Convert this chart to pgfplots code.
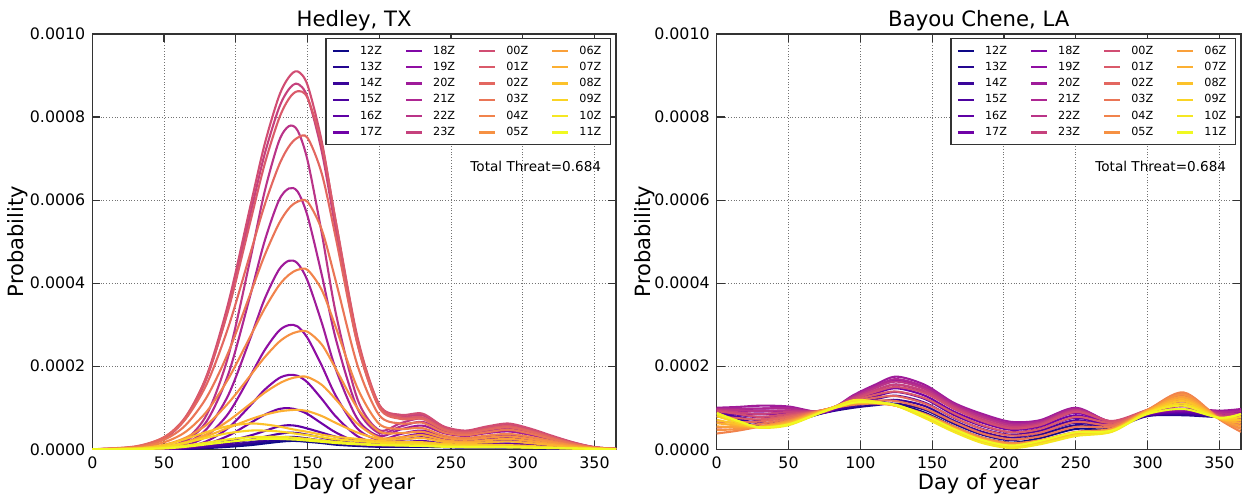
\documentclass[border=0pt]{standalone}
\usepackage{fontspec}
\setmainfont{DejaVu Sans}
\usepackage{pgfplots}
\usepackage{pgfplotstable}
\pgfplotsset{compat=1.18}

\definecolor{c12}{HTML}{0D0887}
\definecolor{c13}{HTML}{240690}
\definecolor{c14}{HTML}{3A059A}
\definecolor{c15}{HTML}{4D03A0}
\definecolor{c16}{HTML}{5F01A5}
\definecolor{c17}{HTML}{7002A7}
\definecolor{c18}{HTML}{8108A6}
\definecolor{c19}{HTML}{900EA3}
\definecolor{c20}{HTML}{9F1B9A}
\definecolor{c21}{HTML}{AE2792}
\definecolor{c22}{HTML}{BA3488}
\definecolor{c23}{HTML}{C6417D}
\definecolor{c00}{HTML}{D14D73}
\definecolor{c01}{HTML}{DA5A6A}
\definecolor{c02}{HTML}{E36760}
\definecolor{c03}{HTML}{EA7556}
\definecolor{c04}{HTML}{F1834C}
\definecolor{c05}{HTML}{F69143}
\definecolor{c06}{HTML}{FAA03A}
\definecolor{c07}{HTML}{FCB032}
\definecolor{c08}{HTML}{FCC22A}
\definecolor{c09}{HTML}{FAD424}
\definecolor{c10}{HTML}{F5E723}
\definecolor{c11}{HTML}{F0F921}

% values in units of 1e-4
\pgfplotstableread{
day h12 h13 h14 h15 h16 h17 h18 h19 h20 h21 h22 h23 h00 h01 h02 h03 h04 h05 h06 h07 h08 h09 h10 h11
0   0 0 0 0 0 0 0 0 0 0 0 0 0 0 0 0 0 0 0 0 0 0 0 0
30  0 0 0 0 0 0 0 0 0 0 0 .05 .05 .06 .07 .05 .04 .02 .02 .01 .02 .01 .01 .01
50  0 0 0 .01 .01 .01 .01 .02 .03 .04 .05 .26 .26 .29 .29 .23 .17 .11 .07 .05 .10 .06 .03 .02
65  .01 .01 .02 .03 .04 .04 .05 .09 .14 .19 .23 .74 .76 .78 .73 .58 .42 .28 .17 .15 .25 .16 .09 .06
80  .03 .04 .05 .07 .10 .13 .20 .33 .50 .69 .85 1.74 1.80 1.77 1.59 1.27 .92 .60 .37 .32 .42 .28 .16 .12
95  .06 .08 .10 .14 .20 .33 .52 .87 1.32 1.83 2.27 3.43 3.55 3.38 2.96 2.35 1.71 1.12 .69 .52 .56 .39 .24 .18
110 .10 .13 .17 .23 .33 .63 1.05 1.76 2.66 3.69 4.56 5.64 5.83 5.46 4.70 3.73 2.71 1.77 1.09 .72 .62 .45 .29 .23
120 .14 .18 .22 .30 .44 .83 1.43 2.38 3.61 5.00 6.19 7.09 7.33 6.85 5.87 4.66 3.38 2.21 1.36 .83 .60 .45 .30 .25
130 .18 .22 .28 .37 .55 .97 1.71 2.85 4.32 5.99 7.41 8.21 8.49 7.95 6.83 5.43 3.94 2.58 1.58 .91 .55 .43 .30 .25
137 .20 .24 .30 .40 .58 .99 1.79 2.99 4.54 6.28 7.78 8.67 8.96 8.44 7.29 5.80 4.20 2.75 1.69 .94 .50 .40 .29 .24
143 .20 .23 .29 .39 .56 .95 1.77 2.96 4.48 6.21 7.68 8.80 9.10 8.62 7.50 5.96 4.32 2.83 1.74 .95 .46 .37 .27 .23
150 .18 .21 .26 .35 .50 .85 1.61 2.68 4.06 5.62 6.96 8.48 8.77 8.46 7.50 5.96 4.32 2.83 1.74 .92 .42 .34 .25 .21
160 .15 .17 .21 .28 .40 .62 1.21 2.01 3.04 4.19 5.19 7.16 7.40 7.32 6.63 5.28 3.83 2.52 1.55 .80 .35 .29 .21 .18
170 .11 .13 .16 .21 .30 .40 .78 1.27 1.90 2.62 3.23 5.23 5.41 5.44 5.04 4.01 2.91 1.92 1.19 .63 .30 .24 .18 .15
185 .08 .09 .11 .14 .20 .17 .31 .49 .72 .97 1.19 2.52 2.62 2.67 2.51 2.00 1.46 .98 .61 .40 .25 .20 .14 .12
200 .06 .07 .08 .11 .15 .10 .16 .23 .32 .39 .46 1.03 1.07 1.07 1.00 .82 .61 .43 .28 .25 .20 .16 .11 .10
215 .06 .07 .09 .12 .17 .22 .29 .37 .48 .55 .63 .79 .83 .77 .73 .62 .49 .39 .29 .24 .18 .14 .10 .09
230 .06 .08 .10 .14 .20 .29 .37 .45 .57 .66 .74 .82 .86 .77 .73 .64 .51 .42 .34 .27 .17 .13 .09 .08
245 .05 .06 .07 .10 .14 .19 .25 .30 .39 .44 .50 .52 .55 .50 .47 .41 .33 .28 .22 .18 .13 .10 .07 .06
260 .04 .05 .06 .08 .12 .16 .20 .25 .32 .36 .41 .43 .45 .41 .38 .34 .27 .23 .18 .15 .11 .08 .06 .05
275 .04 .05 .07 .09 .13 .19 .25 .30 .39 .44 .50 .52 .55 .50 .47 .41 .33 .28 .22 .17 .11 .08 .06 .05
290 .04 .05 .07 .10 .14 .22 .28 .34 .43 .50 .56 .59 .62 .56 .53 .47 .37 .31 .25 .19 .10 .07 .05 .05
305 .03 .04 .05 .08 .11 .18 .23 .28 .35 .40 .45 .48 .50 .45 .43 .38 .30 .25 .20 .15 .08 .05 .04 .04
320 .02 .02 .03 .05 .07 .12 .15 .18 .23 .26 .30 .31 .33 .30 .28 .25 .20 .17 .13 .10 .05 .04 .03 .03
335 .01 .01 .02 .03 .04 .06 .08 .09 .12 .14 .15 .16 .17 .15 .14 .13 .10 .09 .07 .05 .03 .02 .02 .02
350 0 0 0 .01 .01 .02 .02 .03 .04 .04 .05 .05 .05 .05 .04 .04 .03 .03 .02 .02 .01 .01 .01 .01
365 0 0 0 0 0 0 0 .01 .01 .01 .01 .01 .01 .01 .01 .01 .01 .01 0 0 0 0 0 0
}\lefttab

\pgfplotstableread{
day h12 h13 h14 h15 h16 h17 h18 h19 h20 h21 h22 h23 h00 h01 h02 h03 h04 h05 h06 h07 h08 h09 h10 h11
0   .83 .80 .83 .86 .89 .91 .94 .97 1.00 .98 .96 .94 .92 .79 .65 .52 .38 .46 .55 .63 .71 .80 .88 .85
15  .68 .68 .73 .78 .83 .87 .92 .97 1.02 .98 .94 .89 .85 .75 .65 .55 .45 .49 .53 .57 .60 .64 .68 .68
30  .55 .56 .63 .70 .77 .84 .91 .98 1.05 .98 .92 .85 .78 .72 .67 .61 .55 .55 .54 .54 .53 .53 .52 .53
50  .63 .65 .70 .76 .81 .87 .92 .98 1.03 .99 .94 .90 .85 .81 .78 .74 .70 .68 .66 .64 .62 .60 .58 .60
75  .89 .88 .88 .89 .89 .89 .89 .90 .90 .91 .93 .94 .95 .95 .95 .95 .95 .95 .94 .94 .93 .93 .92 .91
95  1.06 1.00 1.04 1.09 1.13 1.17 1.21 1.26 1.30 1.28 1.25 1.23 1.20 1.17 1.14 1.10 1.07 1.09 1.11 1.13 1.14 1.16 1.18 1.12
110 1.09 1.06 1.13 1.20 1.27 1.34 1.41 1.48 1.55 1.51 1.47 1.42 1.38 1.31 1.24 1.17 1.10 1.11 1.12 1.13 1.13 1.14 1.15 1.12
125 1.08 1.10 1.19 1.29 1.38 1.47 1.56 1.66 1.75 1.69 1.63 1.56 1.50 1.39 1.28 1.16 1.05 1.05 1.05 1.05 1.05 1.05 1.05 1.07
145 .88 .95 1.04 1.12 1.21 1.29 1.38 1.46 1.55 1.50 1.45 1.40 1.35 1.23 1.10 .98 .85 .83 .82 .80 .78 .77 .75 .82
165 .55 .62 .69 .76 .83 .91 .98 1.05 1.12 1.09 1.05 1.02 .98 .87 .77 .66 .55 .53 .51 .49 .46 .44 .42 .49
185 .28 .35 .42 .49 .56 .64 .71 .78 .85 .81 .77 .72 .68 .58 .48 .38 .28 .26 .24 .22 .19 .17 .15 .22
205 .16 .22 .28 .35 .41 .47 .53 .60 .66 .62 .58 .54 .50 .41 .33 .24 .15 .13 .11 .09 .07 .05 .03 .09
225 .27 .35 .40 .45 .50 .55 .60 .65 .70 .67 .64 .61 .58 .49 .40 .31 .22 .20 .19 .17 .15 .14 .12 .20
250 .49 .58 .64 .70 .76 .82 .88 .94 1.00 .98 .95 .93 .90 .78 .66 .54 .42 .40 .39 .37 .35 .34 .32 .41
275 .49 .52 .54 .56 .58 .60 .62 .64 .66 .66 .67 .67 .68 .64 .59 .55 .50 .49 .47 .46 .45 .43 .42 .45
300 .83 .80 .81 .82 .83 .85 .86 .87 .88 .90 .92 .93 .95 .95 .95 .95 .95 .94 .93 .92 .90 .89 .88 .85
325 .90 .82 .84 .87 .89 .91 .93 .96 .98 1.04 1.09 1.15 1.20 1.24 1.29 1.33 1.37 1.32 1.26 1.21 1.16 1.10 1.05 .97
350 .77 .78 .80 .82 .84 .87 .89 .91 .93 .90 .87 .83 .80 .78 .76 .74 .72 .73 .73 .74 .74 .75 .75 .76
365 .85 .85 .87 .88 .90 .92 .94 .95 .97 .92 .86 .81 .75 .67 .59 .50 .42 .49 .56 .64 .71 .78 .85 .85
}\righttab

\pgfplotsset{
  panel/.style={
    scale only axis, height=207.65pt,
    xmin=0, xmax=365, ymin=0, ymax=10,
    xtick={0,50,100,150,200,250,300,350},
    ytick={0,2,4,6,8,10},
    yticklabels={0.0000,0.0002,0.0004,0.0006,0.0008,0.0010},
    grid=major,
    major grid style={densely dotted, black!55, line width=0.5pt},
    axis line style={black!80, line width=0.7pt},
    tick style={black!80, line width=0.6pt},
    major tick length=4pt,
    tick align=inside,
    ticklabel style={font=\fontsize{7.9}{9}\selectfont},
    /pgf/number format/assume math mode=true,
    xlabel={Day of year}, ylabel={Probability},
    label style={font=\fontsize{10.5}{12}\selectfont},
    xlabel style={at={(axis description cs:0.5,-0.082)}, anchor=center},
    title style={font=\fontsize{10.6}{12}\selectfont, at={(axis description cs:0.5,1)}, anchor=base, yshift=-2.5pt},
    legend columns=4,
    legend cell align=left,
    legend style={at={(axis description cs:1,1)}, anchor=north east,
      xshift=-2.5pt, yshift=-2pt,
      font=\fontsize{5.6}{6}\selectfont, draw=black!80, line width=0.7pt,
      fill=white, inner xsep=3pt, inner ysep=2pt,
      nodes={inner sep=1.5pt, text depth=0.1em},
      /tikz/every odd column/.append style={column sep=3.5pt},
      /tikz/every even column/.append style={column sep=10pt}},
    legend image code/.code={\draw[#1, line width=1.1pt] (0pt,0pt) -- (8pt,0pt);},
    every axis plot/.append style={line width=1.05pt, smooth, forget plot},
  },
}

\newcommand{\mylegend}{%
  \addlegendimage{c12}\addlegendentry{12Z}
  \addlegendimage{c18}\addlegendentry{18Z}
  \addlegendimage{c00}\addlegendentry{00Z}
  \addlegendimage{c06}\addlegendentry{06Z}
  \addlegendimage{c13}\addlegendentry{13Z}
  \addlegendimage{c19}\addlegendentry{19Z}
  \addlegendimage{c01}\addlegendentry{01Z}
  \addlegendimage{c07}\addlegendentry{07Z}
  \addlegendimage{c14}\addlegendentry{14Z}
  \addlegendimage{c20}\addlegendentry{20Z}
  \addlegendimage{c02}\addlegendentry{02Z}
  \addlegendimage{c08}\addlegendentry{08Z}
  \addlegendimage{c15}\addlegendentry{15Z}
  \addlegendimage{c21}\addlegendentry{21Z}
  \addlegendimage{c03}\addlegendentry{03Z}
  \addlegendimage{c09}\addlegendentry{09Z}
  \addlegendimage{c16}\addlegendentry{16Z}
  \addlegendimage{c22}\addlegendentry{22Z}
  \addlegendimage{c04}\addlegendentry{04Z}
  \addlegendimage{c10}\addlegendentry{10Z}
  \addlegendimage{c17}\addlegendentry{17Z}
  \addlegendimage{c23}\addlegendentry{23Z}
  \addlegendimage{c05}\addlegendentry{05Z}
  \addlegendimage{c11}\addlegendentry{11Z}
}

\newcommand{\allcurves}[1]{%
  \addplot[c12] table[x=day,y=h12] {#1};
  \addplot[c13] table[x=day,y=h13] {#1};
  \addplot[c14] table[x=day,y=h14] {#1};
  \addplot[c15] table[x=day,y=h15] {#1};
  \addplot[c16] table[x=day,y=h16] {#1};
  \addplot[c17] table[x=day,y=h17] {#1};
  \addplot[c18] table[x=day,y=h18] {#1};
  \addplot[c19] table[x=day,y=h19] {#1};
  \addplot[c20] table[x=day,y=h20] {#1};
  \addplot[c21] table[x=day,y=h21] {#1};
  \addplot[c22] table[x=day,y=h22] {#1};
  \addplot[c23] table[x=day,y=h23] {#1};
  \addplot[c00] table[x=day,y=h00] {#1};
  \addplot[c01] table[x=day,y=h01] {#1};
  \addplot[c02] table[x=day,y=h02] {#1};
  \addplot[c03] table[x=day,y=h03] {#1};
  \addplot[c04] table[x=day,y=h04] {#1};
  \addplot[c05] table[x=day,y=h05] {#1};
  \addplot[c06] table[x=day,y=h06] {#1};
  \addplot[c07] table[x=day,y=h07] {#1};
  \addplot[c08] table[x=day,y=h08] {#1};
  \addplot[c09] table[x=day,y=h09] {#1};
  \addplot[c10] table[x=day,y=h10] {#1};
  \addplot[c11] table[x=day,y=h11] {#1};
}

\begin{document}
\begin{tikzpicture}
\useasboundingbox (0,0) rectangle (621pt,248pt);
\begin{axis}[panel, at={(46.15pt,23.35pt)}, anchor=south west,
  width=261.85pt, title={Hedley, TX},
  ylabel style={at={(axis description cs:-0.142,0.5)}, anchor=center}]
  \mylegend
  \allcurves{\lefttab}
  \node[anchor=east, font=\fontsize{6.8}{8}\selectfont] at (rel axis cs:0.985,0.682) {Total Threat=0.684};
\end{axis}
\begin{axis}[panel, at={(358.35pt,23.35pt)}, anchor=south west,
  width=262.15pt, title={Bayou Chene, LA},
  ylabel style={at={(axis description cs:-0.137,0.5)}, anchor=center}]
  \mylegend
  \allcurves{\righttab}
  \node[anchor=east, font=\fontsize{6.8}{8}\selectfont] at (rel axis cs:0.985,0.682) {Total Threat=0.684};
\end{axis}
\end{tikzpicture}
\end{document}
